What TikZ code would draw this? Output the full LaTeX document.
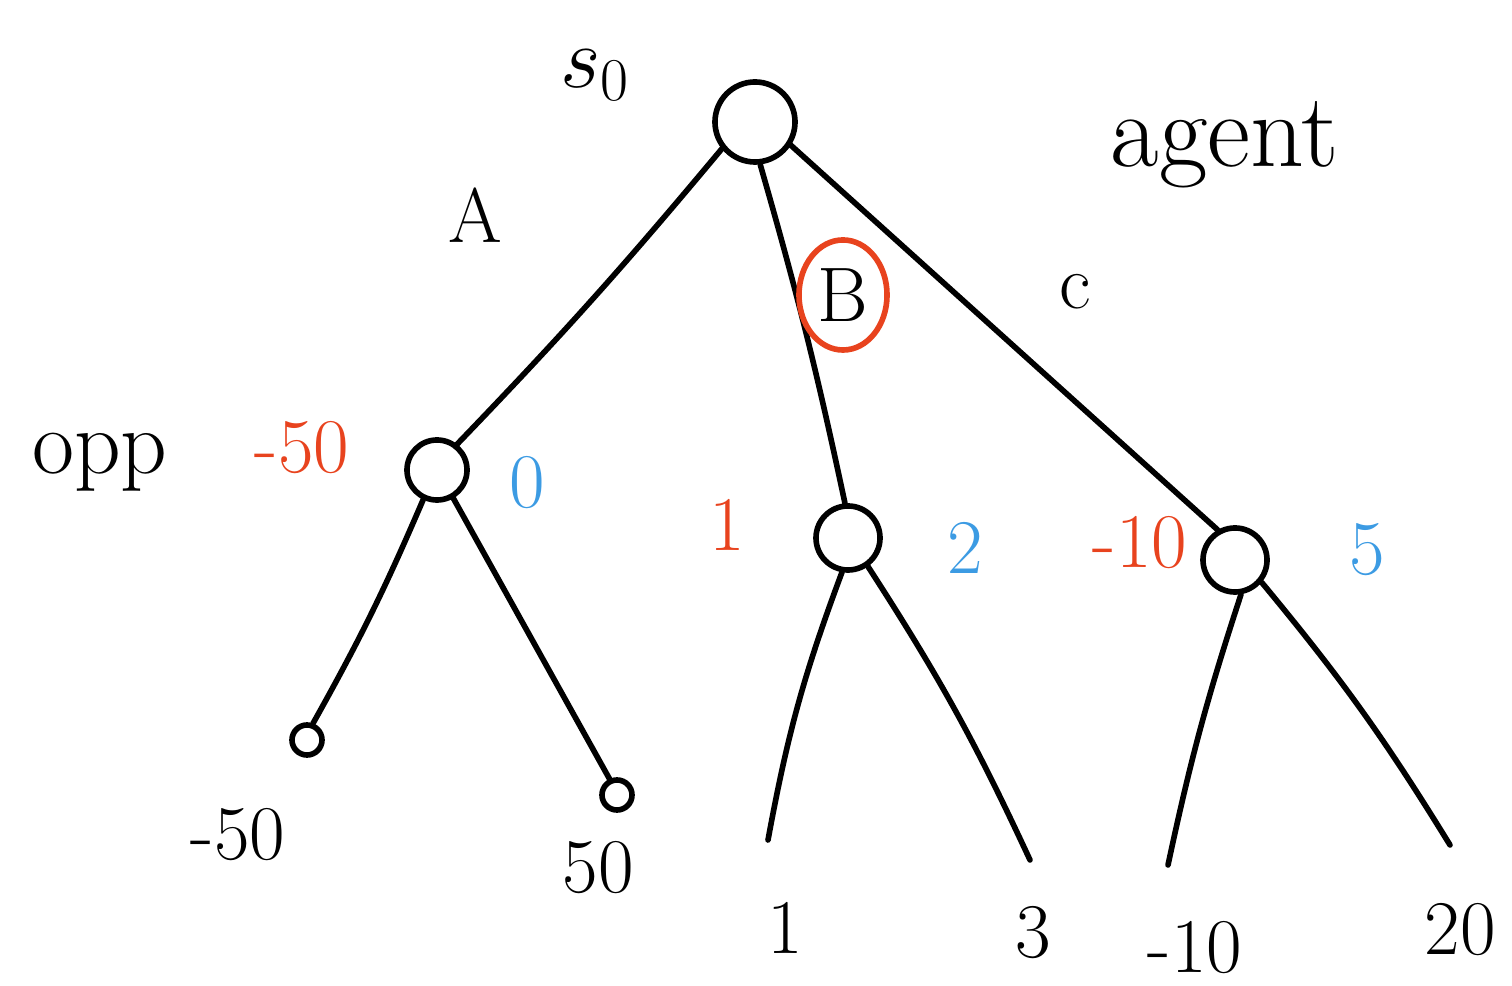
\documentclass[tikz,border=0pt]{standalone}
\usetikzlibrary{shapes.geometric}
\definecolor{hred}{HTML}{E8431E}
\definecolor{hblue}{HTML}{3C9BE3}
\begin{document}
\begin{tikzpicture}[x=0.01cm,y=-0.01cm,
  line width=1.6pt, line cap=round,
  state/.style={draw,circle,inner sep=0pt},
  lbl/.style={font=\fontsize{22}{26}\selectfont, inner sep=0pt},
  rlbl/.style={lbl, text=hred},
  blbl/.style={lbl, text=hblue}]
\useasboundingbox (0,0) rectangle (1512,986);
% states
\node[state,minimum size=0.8cm] (s0) at (755,122) {};
\node[state,minimum size=0.6cm] (opp) at (437,470) {};
\node[state,minimum size=0.64cm] (mn) at (848,538) {};
\node[state,minimum size=0.64cm] (rn) at (1235,560) {};
\node[state,minimum size=0.3cm] (l1) at (307,740) {};
\node[state,minimum size=0.3cm] (l2) at (617,795) {};
\coordinate (l3) at (768,840);
\coordinate (l4) at (1030,860);
\coordinate (l5) at (1168,865);
\coordinate (l6) at (1450,845);
% edges
\draw (s0.219) to[bend left=2] (opp.52);
\draw (s0.277) to[bend left=2] (mn.95);
\draw (s0.327) to (rn.120);
\draw (opp.245) to[bend left=3] (l1.70);
\draw (opp.300) to (l2.115);
\draw (mn.260) to[bend right=5] (l3);
\draw (mn.305) to[bend left=4] (l4);
\draw (rn.280) to[bend right=3] (l5);
\draw (rn.320) to[bend left=4] (l6);
% labels
\node[lbl,font=\fontsize{26}{30}\selectfont] (ls0) at (595,75) {$s_0$};
\node[lbl,font=\fontsize{30}{34}\selectfont] (lag) at (1225,145) {agent};
\node[lbl,font=\fontsize{26}{30}\selectfont] (lopp) at (100,462) {opp};
\node[lbl] (la) at (475,215) {A};
\node[lbl,draw=hred,ellipse,minimum width=0.88cm,minimum height=1.1cm] (lb) at (843,295) {B};
\node[lbl] (lc) at (1075,292) {c};
\node[rlbl] (v1) at (302,448) {-50};
\node[blbl] (v2) at (527,483) {0};
\node[rlbl] (v3) at (727,525) {1};
\node[blbl] (v4) at (965,548) {2};
\node[rlbl] (v5) at (1140,543) {-10};
\node[blbl] (v6) at (1367,550) {5};
\node[lbl] (t1) at (238,835) {-50};
\node[lbl] (t2) at (598,868) {50};
\node[lbl] (t3) at (785,928) {1};
\node[lbl] (t4) at (1033,933) {3};
\node[lbl] (t5) at (1195,948) {-10};
\node[lbl] (t6) at (1460,930) {20};
\end{tikzpicture}
\end{document}
